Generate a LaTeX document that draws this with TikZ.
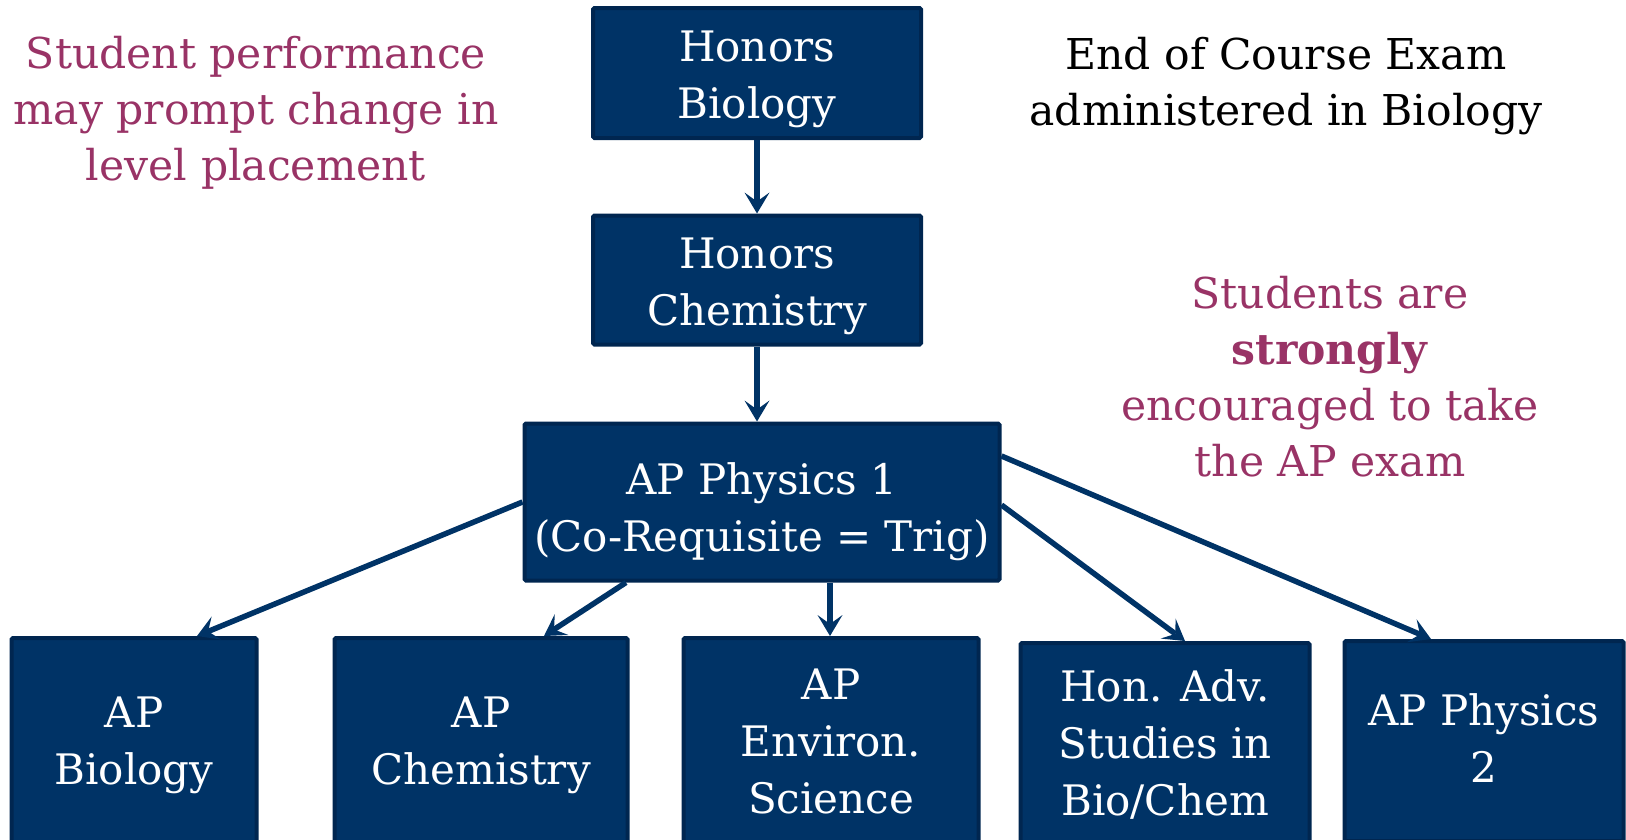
\documentclass[tikz,border=0pt]{standalone}
\usepackage{fontspec}
\setmainfont{DejaVu Serif}
\usetikzlibrary{arrows.meta,calc}
\definecolor{boxblue}{HTML}{003366}
\definecolor{boxedge}{HTML}{002650}
\definecolor{plum}{HTML}{993366}
\newcommand\lowtext[2]{\raisebox{-#1}[\height][\depth]{\begin{tabular}{@{}c@{}}#2\end{tabular}}}
\tikzset{
  course/.style={draw=boxedge, line width=4pt, fill=boxblue, text=white, align=center, rounded corners=1.5pt,
    font=\fontsize{42}{57}\selectfont, inner sep=0pt},
  note/.style={align=center, font=\fontsize{42.5}{56}\selectfont},
  flow/.style={draw=boxblue, line width=5.5pt, -{Stealth[length=21pt,width=25pt,inset=9pt,line width=0pt]}}
}
\begin{document}
\begin{tikzpicture}[x=1pt,y=-1pt]
\useasboundingbox (0,0) rectangle (1626,839);
\node[course, minimum width=328pt, minimum height=130pt] (hbio) at (757,73) {\lowtext{6pt}{Honors\\Biology}};
\node[course, minimum width=328pt, minimum height=129pt] (hchem) at (757,280) {\lowtext{6pt}{Honors\\Chemistry}};
\node[course, minimum width=475pt, minimum height=157pt] (phys1) at (762,502) {\lowtext{10pt}{AP Physics 1\\(Co-Requisite = Trig)}};
\node[course, minimum width=245pt, minimum height=208pt] (apbio) at (134,742) {\lowtext{3pt}{AP\\Biology}};
\node[course, minimum width=293pt, minimum height=208pt] (apchem) at (481,742) {\lowtext{3pt}{AP\\Chemistry}};
\node[course, minimum width=295pt, minimum height=206pt] (apenv) at (831,741) {AP\\Environ.\\Science};
\node[course, minimum width=289pt, minimum height=202pt] (hadv) at (1165,744) {Hon. Adv.\\Studies in\\Bio/Chem};
\node[course, minimum width=279pt, minimum height=200pt] (phys2) at (1484,741) {\lowtext{2pt}{AP Physics\\2}};

\node[note, text=plum] (perf) at (256,113) {Student performance\\may prompt change in\\level placement};
\node[note, text=black] (eoc) at (1286,86) {End of Course Exam\\administered in Biology};
\node[note, text=plum] (apnote) at (1330,377) {Students are\\\textbf{strongly}\\encouraged to take\\the AP exam};

\draw[flow] (hbio.south) -- (hchem.north);
\draw[flow] (hchem.south) -- (hchem.south |- phys1.north);
\draw[flow] (phys1.west) -- ([xshift=63pt]apbio.north);
\draw[flow] ([xshift=-136pt]phys1.south) -- ([xshift=63pt]apchem.north);
\draw[flow] ([xshift=68pt]phys1.south) -- ([xshift=-1pt]apenv.north);
\draw[flow] ([yshift=-3pt]phys1.east) -- ([xshift=20pt]hadv.north);
\draw[flow] ([yshift=46pt]phys1.east) -- ([xshift=-53pt]phys2.north);
\end{tikzpicture}
\end{document}
